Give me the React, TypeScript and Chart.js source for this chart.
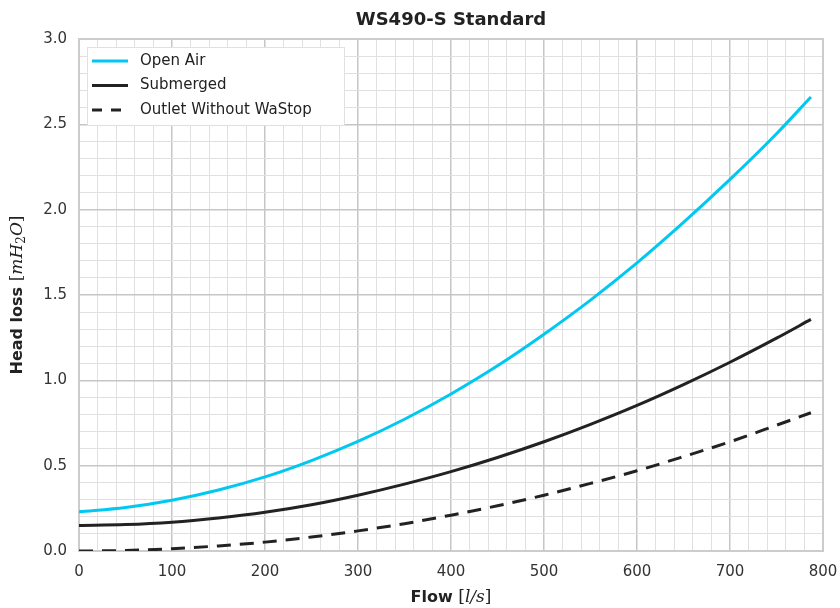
import React, { useEffect, useRef } from "react";
import { Chart, registerables } from "chart.js";

Chart.register(...registerables);

const flow = [0, 50, 100, 150, 200, 250, 300, 350, 400, 450, 500, 550, 600, 650, 700, 750, 787];
const openAir = [0.23, 0.255, 0.297, 0.357, 0.434, 0.53, 0.642, 0.772, 0.92, 1.085, 1.27, 1.47, 1.688, 1.925, 2.177, 2.445, 2.66];
const submerged = [0.15, 0.155, 0.169, 0.194, 0.227, 0.271, 0.327, 0.392, 0.465, 0.548, 0.64, 0.742, 0.853, 0.975, 1.106, 1.247, 1.357];
const outlet = [0.0, 0.003, 0.013, 0.03, 0.052, 0.082, 0.118, 0.16, 0.21, 0.265, 0.327, 0.396, 0.47, 0.553, 0.64, 0.737, 0.81];

const seriesNames = ["Open Air", "Submerged", "Outlet Without WaStop"];
const titleText = "WS490-S Standard";

const FONT = "'DejaVu Sans', sans-serif";
const SERIF = "'DejaVu Serif', serif";
const TEXT = "#333333";

type Seg = { t: string; f: string; dy?: number };

function drawSegs(ctx: CanvasRenderingContext2D, segs: Seg[], cx: number, cy: number) {
  let total = 0;
  for (const s of segs) {
    ctx.font = s.f;
    total += ctx.measureText(s.t).width;
  }
  let x = cx - total / 2;
  ctx.textAlign = "left";
  ctx.textBaseline = "middle";
  for (const s of segs) {
    ctx.font = s.f;
    ctx.fillText(s.t, x, cy + (s.dy || 0));
    x += ctx.measureText(s.t).width;
  }
}

const decorPlugin = {
  id: "decor",
  beforeDatasetsDraw(chart: any) {
    const { ctx, chartArea } = chart;
    ctx.save();
    ctx.strokeStyle = "#cccccc";
    ctx.lineWidth = 2;
    ctx.strokeRect(chartArea.left, chartArea.top, chartArea.right - chartArea.left, chartArea.bottom - chartArea.top);
    ctx.restore();
  },
  afterDraw(chart: any) {
    const { ctx, chartArea } = chart;
    const cx = (chartArea.left + chartArea.right) / 2;
    const cy = (chartArea.top + chartArea.bottom) / 2;
    ctx.save();
    ctx.fillStyle = "#222222";
    ctx.font = `bold 18px ${FONT}`;
    ctx.textAlign = "center";
    ctx.textBaseline = "middle";
    ctx.fillText(titleText, cx, 20);

    ctx.fillStyle = "#222222";
    const sans = `bold 16px ${FONT}`;
    const up = `17px ${SERIF}`;
    const it = `italic 17px ${SERIF}`;
    drawSegs(ctx, [
      { t: "Flow ", f: sans },
      { t: "[", f: up },
      { t: "l/s", f: it },
      { t: "]", f: up },
    ], cx, 598);

    ctx.save();
    ctx.translate(18, cy);
    ctx.rotate(-Math.PI / 2);
    drawSegs(ctx, [
      { t: "Head loss ", f: sans },
      { t: "[", f: up },
      { t: "mH", f: it },
      { t: "2", f: `12px ${SERIF}`, dy: 4 },
      { t: "O", f: it },
      { t: "]", f: up },
    ], 0, 0);
    ctx.restore();

    // legend
    const lx = chartArea.left + 8;
    const ly = chartArea.top + 8;
    const lw = 257;
    const lh = 78;
    ctx.fillStyle = "#ffffff";
    ctx.fillRect(lx, ly, lw, lh);
    ctx.strokeStyle = "#e0e0e0";
    ctx.lineWidth = 1;
    ctx.strokeRect(lx + 0.5, ly + 0.5, lw, lh);
    const colors = ["#00c8f0", "#222222", "#222222"];
    const dashes = [[], [], [10, 9]];
    ctx.font = `15px ${FONT}`;
    ctx.textAlign = "left";
    ctx.textBaseline = "middle";
    for (let i = 0; i < 3; i++) {
      const y = ly + 14 + i * 24.5;
      ctx.strokeStyle = colors[i];
      ctx.lineWidth = 3;
      ctx.setLineDash(dashes[i]);
      ctx.beginPath();
      ctx.moveTo(lx + 5, y);
      ctx.lineTo(lx + 41, y);
      ctx.stroke();
      ctx.setLineDash([]);
      ctx.fillStyle = "#222222";
      ctx.fillText(seriesNames[i], lx + 53, y);
    }
    ctx.restore();
  },
};

export default function App() {
  const ref = useRef<HTMLCanvasElement>(null);
  useEffect(() => {
    const mk = (arr: number[]) => flow.map((x, i) => ({ x, y: arr[i] }));
    const chart = new Chart(ref.current!, {
      type: "line",
      data: {
        datasets: [
          { label: seriesNames[0], data: mk(openAir), borderColor: "#00c8f0", borderWidth: 3, pointRadius: 0, cubicInterpolationMode: "monotone" },
          { label: seriesNames[1], data: mk(submerged), borderColor: "#222222", borderWidth: 3, pointRadius: 0, cubicInterpolationMode: "monotone" },
          { label: seriesNames[2], data: mk(outlet), borderColor: "#222222", borderWidth: 3, borderDash: [14, 9], pointRadius: 0, cubicInterpolationMode: "monotone" },
        ],
      },
      options: {
        animation: false,
        responsive: false,
        maintainAspectRatio: false,
        layout: { padding: { left: 0, top: 39, right: 17, bottom: 0 } },
        plugins: { legend: { display: false }, title: { display: false }, tooltip: { enabled: false } },
        scales: {
          x: {
            type: "linear",
            min: 0,
            max: 800,
            border: { display: false },
            grid: {
              drawTicks: false,
              lineWidth: (c: any) => (c.tick && c.tick.value % 100 === 0 ? 1.5 : 1),
              color: (c: any) => (c.tick && c.tick.value % 100 === 0 ? "#c6c6c6" : "#e0e0e0"),
            },
            ticks: {
              stepSize: 20,
              autoSkip: false,
              maxRotation: 0,
              maxTicksLimit: 100,
              padding: 12,
              color: TEXT,
              font: { family: FONT, size: 15 },
              callback: (v: any) => (Math.round(v) % 100 === 0 ? String(Math.round(v)) : ""),
            },
            afterFit: (s: any) => { s.height = 57; s.paddingRight = 0; s.paddingLeft = 0; },
          },
          y: {
            type: "linear",
            min: 0,
            max: 3,
            border: { display: false },
            grid: {
              drawTicks: false,
              lineWidth: (c: any) => (c.tick && Math.round(c.tick.value * 10) % 5 === 0 ? 1.5 : 1),
              color: (c: any) => (c.tick && Math.round(c.tick.value * 10) % 5 === 0 ? "#c6c6c6" : "#e0e0e0"),
            },
            ticks: {
              stepSize: 0.1,
              autoSkip: false,
              maxTicksLimit: 100,
              padding: 12,
              color: TEXT,
              font: { family: FONT, size: 15 },
              callback: (v: any) => (Math.round(v * 10) % 5 === 0 ? Number(v).toFixed(1) : ""),
            },
            afterFit: (s: any) => { s.width = 79; s.paddingTop = 0; s.paddingBottom = 0; },
          },
        },
      },
      plugins: [decorPlugin],
    } as any);
    return () => chart.destroy();
  }, []);
  return (
    <div style={{ position: "fixed", left: 0, top: 0, width: 840, height: 608, background: "#fff" }}>
      <canvas ref={ref} width={840} height={608} style={{ width: 840, height: 608 }} />
    </div>
  );
}
